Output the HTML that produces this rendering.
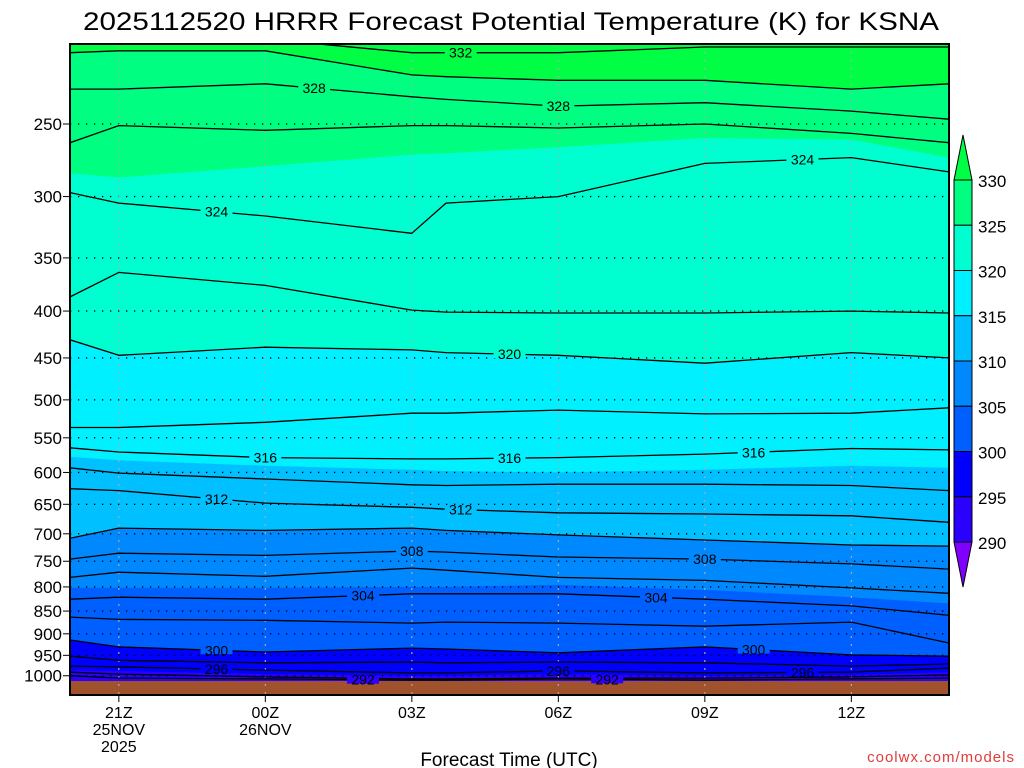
<!DOCTYPE html>
<html><head><meta charset="utf-8">
<style>
html,body{margin:0;padding:0;background:#fff;}
svg{display:block;font-family:"Liberation Sans",sans-serif;}
</style></head>
<body>
<svg id="chart" width="1024" height="768" viewBox="0 0 1024 768" xmlns="http://www.w3.org/2000/svg">
<text x="511" y="30" text-anchor="middle" font-size="25" textLength="856" lengthAdjust="spacingAndGlyphs">2025112520 HRRR Forecast Potential Temperature (K) for KSNA</text>
<g id="fills"></g>
<g id="grid"></g>
<g id="lines"></g>
<g id="labels"></g>
<g id="axes"></g>
<g id="cbar"></g>
<text x="509" y="766" text-anchor="middle" font-size="19">Forecast Time (UTC)</text>
<text x="1015" y="762" text-anchor="end" font-size="15" fill="#e03c3c" letter-spacing="1">coolwx.com/models</text>
</svg>
<script>
// ---- data ----
const hours = [0, 1, 4, 7, 7.7, 10, 13, 16, 18];            // forecast hours since 20Z
const timeTicks = [1, 4, 7, 10, 13, 16];
const timeTickLabels = [["21Z","25NOV","2025"],["00Z","26NOV"],["03Z"],["06Z"],["09Z"],["12Z"]];
const pressureTicks = [250,300,350,400,450,500,550,600,650,700,750,800,850,900,950,1000];
// fill boundaries (pressure hPa of isentrope at each hour)
const fillLevels = [330, 325, 320, 315, 310, 305, 300, 295];
const fillBounds = [
  [209,208,208,221,222,224,224,229,226],
  [283,286,278,270,269,265,259,260,272],
  [430,447,438,441,444,447,456,444,450],
  [577,582,590,596,598,600,596,590,593],
  [708,690,694,690,694,702,711,720,722],
  [802,802,802,800,800,796,806,821,834],
  [914,930,942,933,935,944,930,949,952],
  [986,988,996,1000,1000,996,1000,998,991]
];
const bandColors = ["#00ff44","#00ff80","#00ffd0","#00f0ff","#00c0ff","#0088ff","#0060ff","#0000ff","#2a00ff"];
const cbarLevels = [330,325,320,315,310,305,300,295,290];
// contour lines every 2 K
const lineLevels = [332,330,328,326,324,322,320,318,316,314,312,310,308,306,304,302,300,298,296,294,292];
const lineP = [
  [200,200,201,209,209,209,206,206,206],
  [209,208,208,221,222,224,224,229,226],
  [229,229,226,233.5,235,239,237,242,247],
  [262,251,254,251,251,252.5,250,256,262],
  [297,305,315,329,305,300,276,272,282],
  [386,363,375,399,401,402,402,400,402],
  [430,447,438,441,444,447,456,444,450],
  [536,536,529,517,517,513,518,517,510],
  [564,570,578,580,580,578,573,565,567],
  [593,601,610,619,620,618,618,620,628],
  [625,628,648,655,658,664,666,669,680],
  [708,690,694,690,694,702,711,720,722],
  [746,735,739,731,733,742,746,755,765],
  [781,771,779,763,767,781,787,802,813],
  [825,821,825,814,814,814,825,839,859],
  [863,868,870,876,874,876,883,874,921],
  [914,930,942,933,935,944,930,949,952],
  [952,962,968,966,968,966,968,976,971],
  [976,978,986,993,993,988,993,991,981],
  [991,996,1003,1008,1008,1006,1006,1003,998],
  [1000,1006,1008,1011,1011,1008,1011,1008,1006]
];
const labelValues = [332,328,328,324,324,320,316,316,316,312,312,308,308,304,304,300,300,296,296,296,292,292];
const labelHours  = [8.0,5.0,10.0,3.0,15.0,9.0,4.0,9.0,14.0,3.0,8.0,7.0,13.0,6.0,12.0,3.0,14.0,3.0,10.0,15.0,6.0,11.0];

// ---- scales ----
const X0=70, X1=949, Y0=44, Y1=695, YG=681;
const xScale = h => X0 + h*(X1-X0)/18;
const yScale = p => 124 + 398*Math.log(p/250);
const NS="http://www.w3.org/2000/svg";
function mk(tag, attrs, parent){const e=document.createElementNS(NS,tag);for(const k in attrs)e.setAttribute(k,attrs[k]);parent.appendChild(e);return e;}
function ptsOf(arr){return arr.map((p,i)=>[xScale(hours[i]), Math.max(Y0-5, yScale(p))]);}
function interpP(arr,h){for(let i=0;i<hours.length-1;i++){if(h>=hours[i]&&h<=hours[i+1]){const t=(h-hours[i])/(hours[i+1]-hours[i]);return arr[i]+t*(arr[i+1]-arr[i]);}}return arr[arr.length-1];}

const svg=document.getElementById('chart');
const defs=mk('defs',{},svg);
const cp=mk('clipPath',{id:'plotclip'},defs);
mk('rect',{x:X0,y:Y0,width:X1-X0,height:Y1-Y0},cp);

// fills
const gF=document.getElementById('fills');
gF.setAttribute('clip-path','url(#plotclip)');
const bg=mk('rect',{x:X0,y:Y0,width:X1-X0,height:Y1-Y0,fill:bandColors[0]},gF);


fillBounds.forEach((b,i)=>{
  const pts=ptsOf(b);
  let d='M'+X0+','+Y1+' L'+pts.map(q=>q[0].toFixed(1)+','+q[1].toFixed(1)).join(' L')+' L'+X1+','+Y1+' Z';
  const el=mk('path',{d:d,fill:bandColors[i+1]},gF);
  
  
});
const ground=mk('rect',{x:X0,y:YG,width:X1-X0,height:Y1-YG,fill:'#a0522d'},gF);



// grid
const gG=document.getElementById('grid');
pressureTicks.forEach(p=>{
  const y=yScale(p);
  const l=mk('line',{x1:X0,x2:X1,y1:y,y2:y,stroke:'#000','stroke-width':1.3,'stroke-dasharray':'1.3,6.7'},gG);
  
  
});
timeTicks.forEach(h=>{
  const x=xScale(h);
  const l=mk('line',{x1:x,x2:x,y1:Y0,y2:Y1,stroke:'#aaa','stroke-width':1.2,'stroke-dasharray':'2,6'},gG);
  
  
});

// contour lines
const gL=document.getElementById('lines');
gL.setAttribute('clip-path','url(#plotclip)');
lineLevels.forEach((v,i)=>{
  const pts=ptsOf(lineP[i]);
  const el=mk('polyline',{points:pts.map(q=>q[0].toFixed(1)+','+q[1].toFixed(1)).join(' '),fill:'none',stroke:'#000','stroke-width':1.3,'stroke-linejoin':'round'},gL);
  
  
});

// labels
const gLb=document.getElementById('labels');
function bandColorFor(v){for(let i=0;i<fillLevels.length;i++){if(v>=fillLevels[i])return bandColors[i];}return bandColors[bandColors.length-1];}
labelValues.forEach((v,i)=>{
  const idx=lineLevels.indexOf(v);
  const h=labelHours[i];
  const p=interpP(lineP[idx],h);
  const x=xScale(h), y=yScale(p);
  const col=bandColorFor(v);
  const r=mk('rect',{x:x-16,y:y-4,width:32,height:8,fill:col},gLb);
  
  
  const t=mk('text',{x:x,y:y+5,'text-anchor':'middle','font-size':14},gLb);
  t.textContent=v;
  
  
});

// axes
const gA=document.getElementById('axes');
const fr=mk('rect',{x:X0,y:Y0,width:X1-X0,height:Y1-Y0,fill:'none',stroke:'#000','stroke-width':2},gA);


pressureTicks.forEach(p=>{
  const y=yScale(p);
  mk('line',{x1:X0-7,x2:X0,y1:y,y2:y,stroke:'#000','stroke-width':1},gA);
  const t=mk('text',{x:62,y:y+6,'text-anchor':'end','font-size':17},gA);
  t.textContent=p;
  
  
});
timeTicks.forEach((h,i)=>{
  const x=xScale(h);
  mk('line',{x1:x,x2:x,y1:Y1,y2:Y1+7,stroke:'#000','stroke-width':1},gA);
  timeTickLabels[i].forEach((s,j)=>{
    const t=mk('text',{x:x,y:718+j*17,'text-anchor':'middle','font-size':16},gA);
    t.textContent=s;
    
    
  });
});

// colorbar
const gC=document.getElementById('cbar');
const CX=954, CW=18, CY0=180, CSTEP=45.25;
const tt=mk('polygon',{points:`${CX},${CY0} ${CX+CW},${CY0} ${CX+CW/2},135`,fill:bandColors[0],stroke:'#000','stroke-width':1},gC);


for(let i=0;i<8;i++){
  const r=mk('rect',{x:CX,y:CY0+i*CSTEP,width:CW,height:CSTEP,fill:bandColors[i+1],stroke:'#000','stroke-width':1},gC);
  
  
}
const bt=mk('polygon',{points:`${CX},${CY0+8*CSTEP} ${CX+CW},${CY0+8*CSTEP} ${CX+CW/2},587`,fill:'#8000ff',stroke:'#000','stroke-width':1},gC);


cbarLevels.forEach((v,i)=>{
  const t=mk('text',{x:978,y:CY0+i*CSTEP+7,'font-size':17},gC);
  t.textContent=v;
  
  
});
</script>
</body></html>
